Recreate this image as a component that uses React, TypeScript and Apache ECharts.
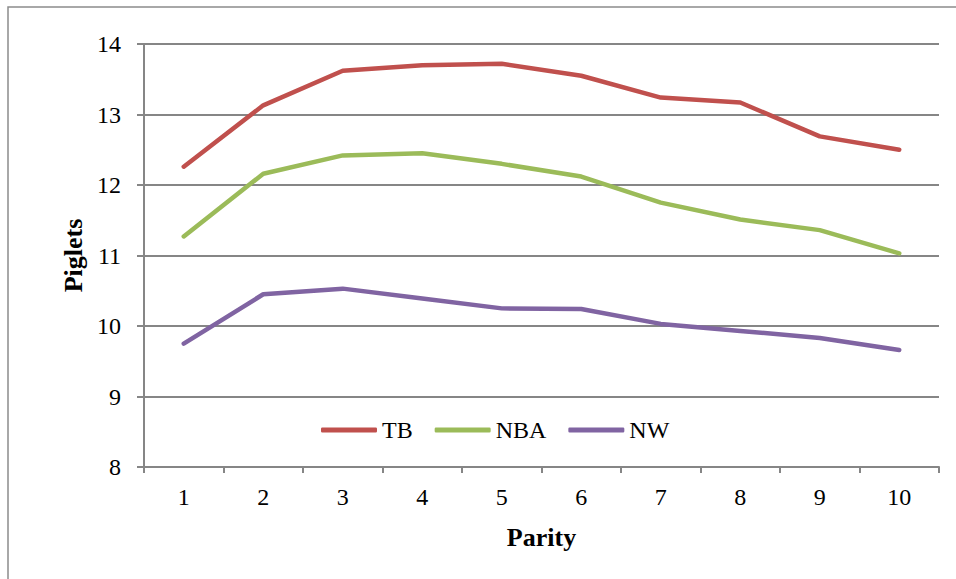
import React, { useEffect, useRef } from "react";
import * as echarts from "echarts";

const parities = ["1", "2", "3", "4", "5", "6", "7", "8", "9", "10"];
const tbValues = [12.26, 13.13, 13.62, 13.7, 13.72, 13.55, 13.24, 13.17, 12.69, 12.5];
const nbaValues = [11.27, 12.16, 12.42, 12.45, 12.3, 12.12, 11.75, 11.51, 11.36, 11.03];
const nwValues = [9.75, 10.45, 10.53, 10.39, 10.25, 10.24, 10.03, 9.93, 9.83, 9.66];

const FONT = "'Liberation Serif', 'Times New Roman', serif";
const GRID_GRAY = "#868686";

export default function App() {
  const ref = useRef<HTMLDivElement>(null);

  useEffect(() => {
    if (!ref.current) return;
    const chart = echarts.init(ref.current, undefined, { renderer: "svg" });

    const mkSeries = (name: string, data: number[], color: string) => ({
      name,
      type: "line",
      data,
      showSymbol: false,
      symbol: "none",
      lineStyle: { color, width: 4.5, cap: "round", join: "round" },
      itemStyle: { color },
    });

    chart.setOption({
      animation: false,
      backgroundColor: "#ffffff",
      grid: { left: 144, top: 44, right: 17, bottom: 112, containLabel: false },
      legend: {
        left: 316,
        top: 413,
        icon: "roundRect",
        itemWidth: 56,
        itemHeight: 5,
        itemGap: 22,
        textStyle: { fontFamily: FONT, fontSize: 24, color: "#000" },
        data: ["TB", "NBA", "NW"],
      },
      xAxis: {
        type: "category",
        data: parities,
        boundaryGap: true,
        name: "Parity",
        nameLocation: "middle",
        nameGap: 57,
        nameTextStyle: { fontFamily: FONT, fontSize: 26, fontWeight: "bold", color: "#000" },
        axisLine: { lineStyle: { color: GRID_GRAY, width: 2 } },
        axisTick: { show: true, length: 6, alignWithLabel: false, lineStyle: { color: GRID_GRAY, width: 2 } },
        axisLabel: { fontFamily: FONT, fontSize: 24, color: "#000", margin: 18 },
      },
      yAxis: {
        type: "value",
        min: 8,
        max: 14,
        interval: 1,
        name: "Piglets",
        nameLocation: "middle",
        nameGap: 58,
        nameRotate: 90,
        nameTextStyle: { fontFamily: FONT, fontSize: 26, fontWeight: "bold", color: "#000" },
        axisLine: { show: true, lineStyle: { color: GRID_GRAY, width: 2 } },
        axisTick: { show: true, length: 7, lineStyle: { color: GRID_GRAY, width: 2 } },
        axisLabel: { fontFamily: FONT, fontSize: 24, color: "#000", margin: 23 },
        splitLine: { show: true, lineStyle: { color: GRID_GRAY, width: 2 } },
      },
      graphic: [
        {
          type: "rect",
          silent: true,
          shape: { x: 8, y: 7, width: 1000, height: 700 },
          style: { fill: "none", stroke: "#8c8c8c", lineWidth: 1.5 },
        },
      ],
      series: [
        mkSeries("TB", tbValues, "#C0504D"),
        mkSeries("NBA", nbaValues, "#9BBB59"),
        mkSeries("NW", nwValues, "#8064A2"),
      ],
    });

    return () => chart.dispose();
  }, []);

  return (
    <div
      ref={ref}
      style={{ position: "absolute", left: 0, top: 0, width: 956, height: 579 }}
    />
  );
}
